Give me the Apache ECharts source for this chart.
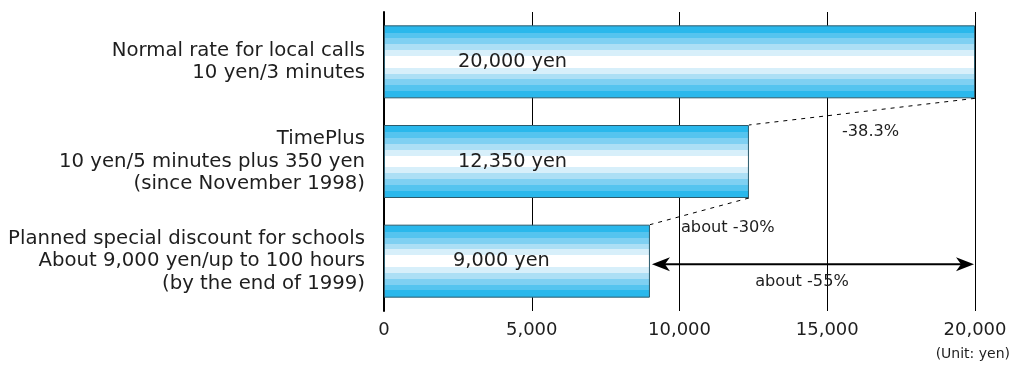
<!DOCTYPE html>
<html>
<head>
<meta charset="utf-8">
<script src="https://cdn.jsdelivr.net/npm/echarts@6/dist/echarts.min.js"></script>
<style>
  html, body { margin: 0; padding: 0; background: #fff; }
  #chart { width: 1012px; height: 365px; }
</style>
</head>
<body>
<div id="chart"></div>
<script>
// Monthly charges for the three calling plans
const categories = [
  'Normal rate for local calls\n10 yen/3 minutes',
  'TimePlus\n10 yen/5 minutes plus 350 yen\n(since November 1998)',
  'Planned special discount for schools\nAbout 9,000 yen/up to 100 hours\n(by the end of 1999)'
];
const values = [20000, 12350, 9000];
const valueLabels = ['20,000 yen', '12,350 yen', '9,000 yen'];
const xTicks = [0, 5000, 10000, 15000, 20000];
const stepLabels = ['-38.3%', 'about -30%'];
const totalLabel = 'about -55%';
const unitText = '(Unit: yen)';

const FONT = '"DejaVu Sans", "Liberation Sans", Arial, sans-serif';
const TEXT = '#1e1e1e';
const BAR_W = 73;

// Stepped blue-to-white shading across the bar thickness
const shades = ['#2ab8ec', '#55c4ef', '#7fd0f2', '#acdff5', '#d7effa'];
const bounds = [0, 0.1, 0.18, 0.26, 0.34, 0.42];
const stops = [];
shades.forEach((c, i) => {
  stops.push({ offset: bounds[i], color: c }, { offset: bounds[i + 1], color: c });
});
stops.push({ offset: 0.42, color: '#ffffff' }, { offset: 0.58, color: '#ffffff' });
for (let i = shades.length - 1; i >= 0; i--) {
  stops.push({ offset: 1 - bounds[i + 1], color: shades[i] }, { offset: 1 - bounds[i], color: shades[i] });
}

const chart = echarts.init(document.getElementById('chart'), null, { renderer: 'canvas' });

chart.setOption({
  animation: false,
  textStyle: { fontFamily: FONT },
  title: {
    text: unitText,
    right: 2,
    top: 347,
    padding: 0,
    textStyle: { fontFamily: FONT, fontSize: 14, fontWeight: 'normal', color: TEXT }
  },
  grid: { left: 384, right: 37, top: 12, bottom: 54, containLabel: false },
  xAxis: {
    type: 'value',
    min: 0,
    max: 20000,
    interval: 5000,
    axisLine: { show: false },
    axisTick: { show: false },
    axisLabel: {
      margin: 10,
      fontSize: 18,
      color: TEXT,
      fontFamily: FONT,
      formatter: v => xTicks.includes(v) ? v.toLocaleString('en-US') : ''
    },
    splitLine: {
      show: true,
      showMinLine: false,
      lineStyle: { color: ['#000', '#000', '#000', '#000', '#808080'], width: 1 }
    }
  },
  yAxis: {
    type: 'category',
    inverse: true,
    data: categories,
    axisLine: { show: true, lineStyle: { color: '#000', width: 2 } },
    axisTick: { show: false },
    axisLabel: {
      margin: 19,
      fontSize: 19.7,
      lineHeight: 22.5,
      color: TEXT,
      fontFamily: FONT,
      align: 'right'
    }
  },
  series: [{
    type: 'bar',
    barWidth: BAR_W,
    data: values.map((v, i) => ({
      value: v,
      label: {
        show: true,
        position: 'insideLeft',
        distance: i === 2 ? 69 : 74,
        formatter: valueLabels[i],
        fontSize: 19.3,
        color: TEXT,
        fontFamily: FONT
      }
    })),
    itemStyle: {
      color: { type: 'linear', x: 0, y: 0, x2: 0, y2: 1, colorStops: stops },
      borderColor: '#2c5b6c',
      borderWidth: 1
    },
    z: 3
  }]
});

// Connector lines and percentage notes, placed through the axes
function px(v, idx) { return chart.convertToPixel({ gridIndex: 0 }, [v, idx]); }
const half = BAR_W / 2;
const graphics = [];
const dash = { stroke: '#000', lineWidth: 1, lineDash: [4, 5] };

for (let i = 0; i < values.length - 1; i++) {
  const a = px(values[i], i);
  const b = px(values[i + 1], i + 1);
  graphics.push({
    type: 'line', z: 10,
    shape: { x1: a[0], y1: a[1] + half, x2: b[0], y2: b[1] - half },
    style: dash
  });
}
const p0 = px(values[0], 0), p1 = px(values[1], 1), p2 = px(values[2], 2);
graphics.push({
  type: 'text', z: 10, x: p1[0] + 93, y: p1[1] - 38,
  style: { text: stepLabels[0], fontSize: 16.2, fill: TEXT, fontFamily: FONT }
});
graphics.push({
  type: 'text', z: 10, x: p2[0] + 31, y: p2[1] - 41,
  style: { text: stepLabels[1], fontSize: 16.2, fill: TEXT, fontFamily: FONT }
});

// Double-headed arrow spanning the gap between the lowest plan and the normal rate
const ay = p2[1] + 3;
const xl = p2[0] + 2, xr = p0[0] - 1;
graphics.push({
  type: 'line', z: 10,
  shape: { x1: xl + 8, y1: ay, x2: xr - 8, y2: ay },
  style: { stroke: '#000', lineWidth: 2 }
});
graphics.push({
  type: 'polygon', z: 10,
  shape: { points: [[xl, ay], [xl + 18, ay - 7], [xl + 13, ay], [xl + 18, ay + 7]] },
  style: { fill: '#000' }
});
graphics.push({
  type: 'polygon', z: 10,
  shape: { points: [[xr, ay], [xr - 18, ay - 7], [xr - 13, ay], [xr - 18, ay + 7]] },
  style: { fill: '#000' }
});
graphics.push({
  type: 'text', z: 10, x: (xl + xr) / 2 - 11, y: ay + 18,
  style: { text: totalLabel, fontSize: 16.2, fill: TEXT, fontFamily: FONT, align: 'center', verticalAlign: 'middle' }
});

chart.setOption({ graphic: graphics });
</script>
</body>
</html>
